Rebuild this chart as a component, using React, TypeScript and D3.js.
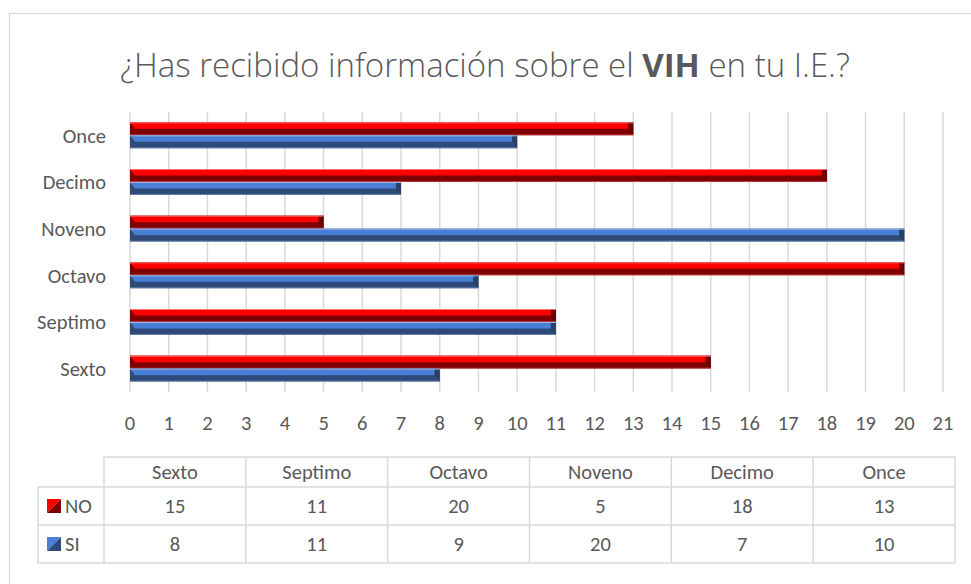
import React from 'react';
import * as d3 from 'd3';

// data
const categories = ['Sexto', 'Septimo', 'Octavo', 'Noveno', 'Decimo', 'Once'];
const seriesNames = ['NO', 'SI'];
const noValues = [15, 11, 20, 5, 18, 13];
const siValues = [8, 11, 9, 20, 7, 10];
const xTicks = d3.range(0, 22);

const width = 971;
const height = 584;
const font = "Calibri, Carlito, Lato, 'Open Sans', sans-serif";
const titleFont = "'Calibri Light', 'Open Sans', Lato, sans-serif";
const textColor = '#595959';
const gridColor = '#d9d9d9';
const labelSize = 20.5;

const colors = {
    NO: { light: '#ff0000', dark: '#7f0000', edge: '#ff7070', end: '#6a0000' },
    SI: { light: '#4a7fd6', dark: '#2e4a78', edge: '#9bb7e6', end: '#283f68' },
};

const Bar = ({ x0, x1, y, h, c }) => {
    const mid = y + h * 0.5;
    const b = Math.min(5, (x1 - x0) / 2);
    return (
        <g>
            <rect x={x0} y={y} width={x1 - x0} height={h} fill={c.dark} />
            <polygon points={`${x0},${y} ${x1 - b},${y} ${x1 - b},${mid} ${x0 + b},${mid}`} fill={c.light} />
            <polygon points={`${x1 - b},${y} ${x1},${y} ${x1},${y + h} ${x1 - b},${mid}`} fill={c.end} />
            <line x1={x0} x2={x1} y1={y + 0.5} y2={y + 0.5} stroke={c.edge} strokeWidth={1} />
            <line x1={x0} x2={x1} y1={y + h - 0.5} y2={y + h - 0.5} stroke={c.edge} strokeWidth={0.8} opacity={0.6} />
        </g>
    );
};

const App = () => {
    const xScale = d3.scaleLinear().domain([0, 21]).range([130, 943]);
    const yScale = d3.scaleBand().domain([...categories].reverse()).range([112, 392]).padding(0);
    const barH = 13;

    const colX = d3.scaleBand().domain(categories).range([104, 955]);
    const rowTop = { head: 457, NO: 487, SI: 525 };
    const rowBottom = 563;
    const legendLeft = 38;

    return (
        <svg width={width} height={height} style={{ position: 'absolute', left: 0, top: 0 }} fontFamily={font}>
            <rect x={0} y={0} width={width} height={height} fill="#fff" />
            <rect x={9.5} y={13.5} width={1000} height={600} fill="#fff" stroke="#d9d9d9" strokeWidth={1.2} />

            <text x={485} y={77} textAnchor="middle" fontSize={33} fill={textColor} fontWeight={300} fontFamily={titleFont}>
                ¿Has recibido información sobre el <tspan fontWeight="bold">VIH</tspan> en tu I.E.?
            </text>

            {/* grid */}
            {xTicks.map((t) => (
                <line key={t} x1={xScale(t)} x2={xScale(t)} y1={112} y2={392} stroke={gridColor} strokeWidth={1.5} />
            ))}

            {/* bars */}
            {categories.map((cat, i) => {
                const c = yScale(cat) + yScale.bandwidth() / 2;
                return (
                    <g key={cat}>
                        <Bar x0={xScale(0)} x1={xScale(noValues[i])} y={c - barH} h={barH} c={colors.NO} />
                        <Bar x0={xScale(0)} x1={xScale(siValues[i])} y={c} h={barH} c={colors.SI} />
                    </g>
                );
            })}

            {/* category labels */}
            {categories.map((cat) => (
                <text key={cat} x={106} y={yScale(cat) + yScale.bandwidth() / 2} dy="0.35em" textAnchor="end" fontSize={labelSize} fill={textColor}>
                    {cat}
                </text>
            ))}

            {/* x tick labels */}
            {xTicks.map((t) => (
                <text key={t} x={xScale(t)} y={423} dy="0.35em" textAnchor="middle" fontSize={labelSize} fill={textColor}>
                    {t}
                </text>
            ))}

            {/* data table */}
            <g stroke={gridColor} strokeWidth={1.5} fill="none">
                <line x1={104} x2={955} y1={rowTop.head} y2={rowTop.head} />
                <line x1={legendLeft} x2={955} y1={rowTop.NO} y2={rowTop.NO} />
                <line x1={legendLeft} x2={955} y1={rowTop.SI} y2={rowTop.SI} />
                <line x1={legendLeft} x2={955} y1={rowBottom} y2={rowBottom} />
                <line x1={legendLeft} x2={legendLeft} y1={rowTop.NO} y2={rowBottom} />
                {categories.map((cat) => (
                    <line key={cat} x1={colX(cat)} x2={colX(cat)} y1={rowTop.head} y2={rowBottom} />
                ))}
                <line x1={955} x2={955} y1={rowTop.head} y2={rowBottom} />
            </g>
            {categories.map((cat) => (
                <text key={cat} x={colX(cat) + colX.bandwidth() / 2} y={(rowTop.head + rowTop.NO) / 2} dy="0.35em" textAnchor="middle" fontSize={labelSize} fill={textColor}>
                    {cat}
                </text>
            ))}
            {seriesNames.map((s) => {
                const vals = s === 'NO' ? noValues : siValues;
                const top = rowTop[s];
                const bottom = s === 'NO' ? rowTop.SI : rowBottom;
                const cy = (top + bottom) / 2;
                const c = colors[s];
                return (
                    <g key={s}>
                        <polygon points={`47,${cy - 7} 61,${cy - 7} 47,${cy + 7}`} fill={c.light} />
                        <polygon points={`61,${cy - 7} 61,${cy + 7} 47,${cy + 7}`} fill={c.dark} />
                        <text x={65} y={cy} dy="0.35em" fontSize={labelSize} fill={textColor}>{s}</text>
                        {categories.map((cat, i) => (
                            <text key={cat} x={colX(cat) + colX.bandwidth() / 2} y={cy} dy="0.35em" textAnchor="middle" fontSize={labelSize} fill={textColor}>
                                {vals[i]}
                            </text>
                        ))}
                    </g>
                );
            })}
        </svg>
    );
};

export default App;
